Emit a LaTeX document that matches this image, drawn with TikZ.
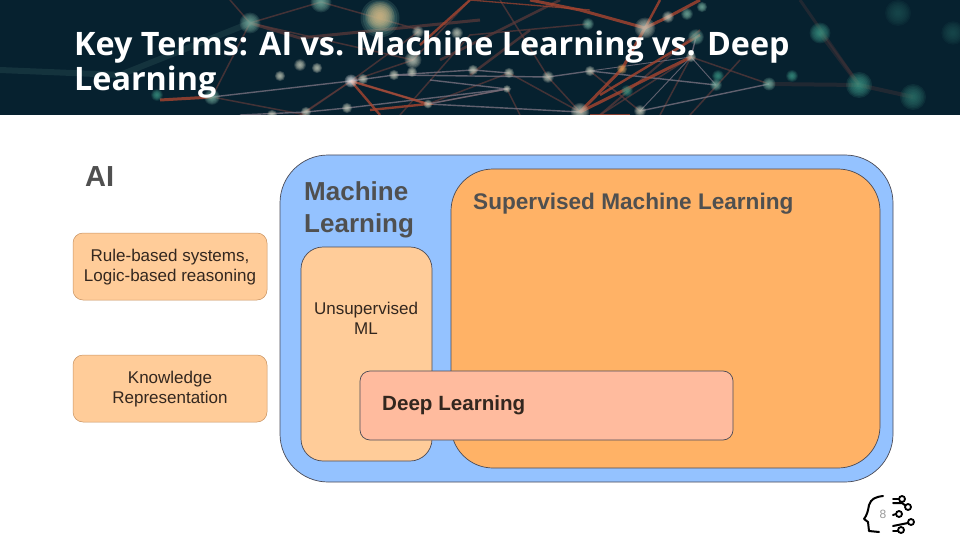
\documentclass[tikz,border=0pt]{standalone}
\usepackage{fontspec}
\setmainfont{Liberation Sans}
\newfontfamily\titlefont{Open Sans}
\definecolor{bannerbg}{HTML}{06212F}
\definecolor{edgecol}{HTML}{4A4A55}
\definecolor{blueback}{HTML}{94C2FF}
\definecolor{oranger}{HTML}{FFB266}
\definecolor{peach}{HTML}{FFCC99}
\definecolor{salmon}{HTML}{FFBB9E}
\definecolor{inkdark}{HTML}{33271F}
\definecolor{inkgray}{HTML}{505050}
\definecolor{redline}{HTML}{A8452F}
\definecolor{dimred}{HTML}{5E3A3A}
\definecolor{greyline}{HTML}{77707E}
\definecolor{tealdot}{HTML}{7FB8A8}
\definecolor{greendot}{HTML}{3F9C88}
\definecolor{palesdot}{HTML}{CFD3C2}
\tikzset{
  panel/.style={draw=edgecol,line width=0.7pt},
  softpanel/.style={draw=oranger!70!edgecol,line width=0.5pt},
  redlink/.style={redline,line width=2.4pt,opacity=.8},
  thinred/.style={redline,line width=1.3pt,opacity=.7},
  dimlink/.style={dimred,line width=1.5pt,opacity=.7},
  greylink/.style={greyline,line width=1.4pt,opacity=.8},
  lbl/.style={inner sep=0pt,align=center,text=inkgray},
  iconline/.style={black,line width=2pt,line cap=round,line join=round},
  iconring/.style={draw=black,line width=1.8pt,fill=white}
}
\newcommand{\blob}[4]{%
  \foreach \k in {1.3,1.15,1,0.85,0.7,0.55,0.4,0.25}{\fill[#4,opacity=.16] (#1,#2) circle[radius=#3*\k];}}
\begin{document}
\begin{tikzpicture}[x=1pt,y=-1pt]
\useasboundingbox (0,0) rectangle (960,540);
\fill[white] (0,0) rectangle (960,540);
\begin{scope}
\clip (0,0) rectangle (960,115);
\fill[bannerbg] (0,0) rectangle (960,115);
% faint links
\draw[dimlink,opacity=.3,line width=4pt] (820,33)--(859,85)--(913,97);
\draw[dimlink,opacity=.3,line width=4pt] (769,84)--(859,85);
\draw[dimlink,opacity=.3,line width=3pt] (800,0)--(859,85);
\draw[tealdot,opacity=.12,line width=6pt] (0,70)--(120,75)--(250,23);
\draw[dimlink] (250,23)--(212,97);
\draw[dimlink] (250,23)--(230,0);
\draw[dimlink] (250,23)--(321,2);
\draw[dimlink] (250,23)--(413,60);
\draw[dimlink] (321,2)--(420,30);
\draw[dimlink,line width=3pt] (250,23)--(300,38)--(480,20);
\draw[dimlink] (413,60)--(470,0);
\draw[dimlink] (212,97)--(306,115);
\draw[dimlink] (351,81)--(306,112);
\draw[dimlink] (413,60)--(351,81);
\draw[dimlink] (351,81)--(300,115);
\draw[dimlink] (418,32)--(351,81);
\draw[dimlink] (428,104)--(507,89);
\draw[dimlink] (428,104)--(509,73);
\draw[dimlink] (509,73)--(580,112);
\draw[dimlink] (507,89)--(520,115);
\draw[dimlink] (548,77)--(580,112);
\draw[dimlink] (548,77)--(500,0);
\draw[dimlink] (590,71)--(640,111);
\draw[dimlink] (691,57)--(660,115);
\draw[dimlink] (691,57)--(600,115);
\draw[dimlink] (769,84)--(691,57);
\draw[dimlink] (740,60)--(690,115);
\draw[dimlink] (400,115)--(470,35)--(588,24);
\draw[dimlink,line width=2.5pt] (440,60)--(560,0);
\draw[dimlink,line width=2.5pt] (470,75)--(530,30);
\draw[dimlink,line width=2pt] (600,115)--(700,30);
% grey links
\draw[greylink] (212,97)--(351,81)--(394,75)--(473,70)--(509,73);
\draw[greylink] (351,81)--(428,104)--(580,112);
\draw[greylink] (394,75)--(548,77)--(590,71);
\draw[greylink] (590,71)--(716,85);
\draw[greylink] (640,111)--(769,84);
\draw[greylink,line width=.9pt] (691,57)--(716,85);
\draw[greylink,line width=.9pt] (691,57)--(640,111);
\draw[greylink,line width=.9pt] (691,57)--(590,71);
\draw[greylink] (428,104)--(507,89)--(430,80);
\draw[greylink] (347,108)--(306,112)--(240,115);
\draw[greylink] (347,108)--(507,89);
\draw[greylink] (696,37)--(691,57);
% red links
\draw[redlink,line width=3pt] (645,28)--(622,69)--(580,112);
\draw[redlink,line width=3pt] (580,112)--(691,57);
\draw[redlink,line width=3pt] (645,28)--(668,17)--(700,0);
\draw[redlink,line width=3pt] (645,28)--(580,10)--(530,0);
\draw[redlink] (645,28)--(660,0);
\draw[redlink] (630,115)--(590,115);
\draw[redlink] (600,95)--(700,35);
\draw[redlink] (351,81)--(380,115);
\draw[redlink] (351,81)--(428,104)--(370,110);
\draw[redlink,line width=3pt] (212,97)--(160,100);
\draw[redlink] (420,45)--(470,0);
\draw[thinred] (470,0)--(590,10);
% soft dots
\blob{250}{23}{8}{tealdot}
\blob{321}{2}{8}{tealdot}
\blob{380}{18}{15}{tealdot}
\blob{380}{16}{11}{orange!35!palesdot}
\blob{413}{60}{6.5}{palesdot}
\blob{418}{32}{4.5}{palesdot}
\blob{457}{33}{4.5}{palesdot}
\blob{300}{65}{4.5}{palesdot}
\blob{317}{68}{4}{palesdot}
\blob{280}{76}{4}{palesdot}
\blob{351}{81}{5}{white}
\blob{363}{79}{4}{palesdot}
\blob{394}{75}{4}{palesdot}
\blob{412}{72}{4}{palesdot}
\blob{473}{70}{4}{palesdot}
\blob{428}{104}{3.5}{palesdot}
\blob{347}{108}{4}{palesdot}
\blob{306}{112}{4}{palesdot}
\blob{272}{115}{4}{palesdot}
\blob{212}{97}{6}{tealdot}
\blob{157}{95}{4.5}{greendot}
\blob{645}{28}{8}{palesdot}
\blob{668}{17}{4.5}{palesdot}
\blob{687}{14}{4.5}{tealdot}
\blob{702}{7}{4}{tealdot}
\blob{588}{24}{4.5}{tealdot}
\blob{696}{37}{6}{tealdot}
\blob{691}{57}{4}{palesdot}
\blob{622}{69}{4}{orange!50!palesdot}
\blob{590}{71}{4}{palesdot}
\blob{548}{77}{4.5}{palesdot}
\blob{509}{73}{4}{palesdot}
\blob{507}{89}{3}{palesdot}
\blob{580}{112}{7}{palesdot}
\blob{640}{111}{4.5}{palesdot}
\blob{716}{85}{4.5}{tealdot}
\blob{718}{76}{4.5}{greendot}
\blob{769}{84}{5}{tealdot}
\blob{627}{91}{4.5}{greendot}
\blob{792}{76}{4.5}{greendot}
\blob{820}{33}{8}{greendot}
\blob{859}{85}{10}{greendot}
\blob{913}{97}{10}{greendot!70!bannerbg}
\blob{898}{13}{10}{greendot!40!bannerbg}
\blob{953}{33}{9}{greendot!40!bannerbg}
\end{scope}
\node[anchor=base west,inner sep=0pt,text=white,font=\titlefont\bfseries\fontsize{32.3}{32}\selectfont] (t1) at (74,56) {Key Terms: AI vs. Machine Learning vs. Deep};
\node[anchor=base west,inner sep=0pt,text=white,font=\titlefont\bfseries\fontsize{32.3}{32}\selectfont] (t2) at (74,91) {Learning};
% diagram
\draw[panel,fill=blueback,rounded corners=48pt] (280,155) rectangle (893,482);
\draw[panel,fill=oranger,rounded corners=42pt] (451,169) rectangle (880,468);
\draw[panel,fill=peach,rounded corners=22pt] (301,247) rectangle (432,461);
\draw[panel,fill=salmon,rounded corners=10pt] (360,371) rectangle (733,440);
\draw[softpanel,fill=peach,rounded corners=10pt] (73,233) rectangle (267,300);
\draw[softpanel,fill=peach,rounded corners=10pt] (73,355) rectangle (267,422);
\node[lbl,anchor=base west,font=\bfseries\fontsize{29}{29}\selectfont] (ai) at (85,186) {AI};
\node[lbl,anchor=base west,font=\bfseries\fontsize{26}{32}\selectfont] (ml) at (304,200.5) {Machine};
\node[lbl,anchor=base west,font=\bfseries\fontsize{26}{32}\selectfont] (ml2) at (304,232.5) {Learning};
\node[lbl,anchor=base west,font=\bfseries\fontsize{22.6}{24}\selectfont] (sup) at (473,209) {Supervised Machine Learning};
\node[lbl,text=inkdark,font=\fontsize{17}{20}\selectfont] (rb) at (170,267.5) {Rule-based systems,\\Logic-based reasoning};
\node[lbl,text=inkdark,font=\fontsize{17}{20}\selectfont] (kr) at (170,389) {Knowledge\\Representation};
\node[lbl,text=inkdark,font=\fontsize{17}{20}\selectfont] (un) at (366,318) {Unsupervised\\ML};
\node[lbl,anchor=base west,text=inkdark,font=\bfseries\fontsize{20.6}{24}\selectfont] (dl) at (382,410) {Deep Learning};
% page number and icon
\node[inner sep=0pt,text=gray!80,font=\fontsize{12}{12}\selectfont] (pg) at (883,514) {8};
\draw[iconline] (883,496) .. controls (875,497) and (871,499) .. (869,505) .. controls (868,511) and (867,515) .. (864,519) -- (868,522) -- (869,531) -- (879,532);
\draw[iconline] (893,499)--(900,499);
\draw[iconline] (893,503)--(902,503)--(906,506);
\draw[iconline] (893,515)--(896,514);
\draw[iconline] (893,526)--(903,524)--(908,523);
\draw[iconline] (893,531)--(898,531);
\node[iconring,circle,minimum size=6pt,inner sep=0pt] (r1) at (902,499) {};
\node[iconring,circle,minimum size=6pt,inner sep=0pt] (r2) at (908,507) {};
\node[iconring,circle,minimum size=6pt,inner sep=0pt] (r3) at (899,514) {};
\node[iconring,circle,minimum size=6pt,inner sep=0pt] (r4) at (911,522) {};
\node[iconring,circle,minimum size=6pt,inner sep=0pt] (r5) at (901,530) {};
\end{tikzpicture}
\end{document}
